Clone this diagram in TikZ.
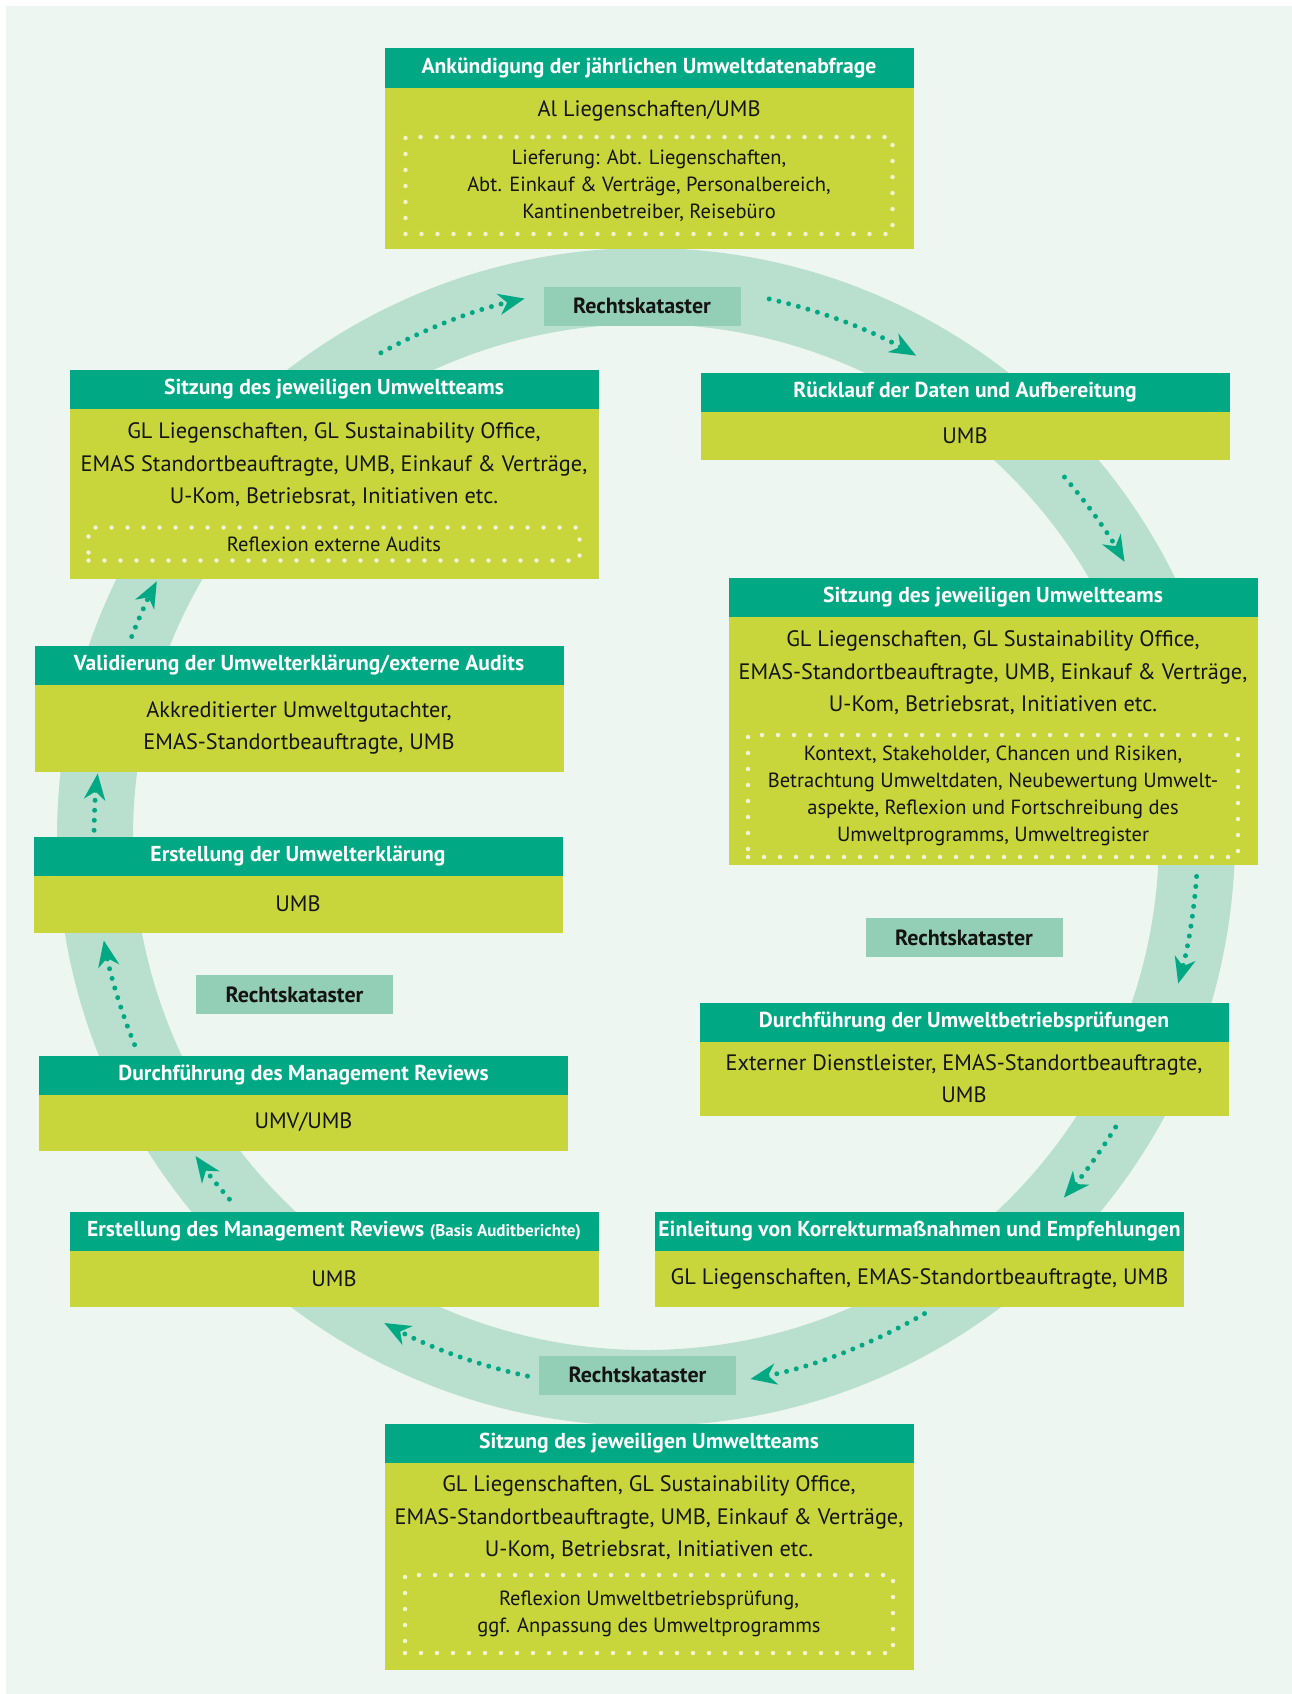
\documentclass[tikz,border=0pt]{standalone}
\usepackage{fontspec}
\setmainfont{PT Sans}
\usetikzlibrary{arrows.meta,positioning}
\definecolor{bgmint}{RGB}{238,246,241}
\definecolor{ringmint}{RGB}{185,223,207}
\definecolor{rkgreen}{RGB}{147,207,182}
\definecolor{headgreen}{RGB}{0,169,131}
\definecolor{bodylime}{RGB}{200,214,60}
\definecolor{dotwhite}{RGB}{242,242,214}
\definecolor{textdark}{RGB}{20,20,20}
\newcommand{\hdfont}{\bfseries\fontsize{21.6}{25}\selectfont}
\newcommand{\txtfont}{\fontsize{22.3}{32.3}\selectfont}
\newcommand{\notefont}{\fontsize{20.5}{27}\selectfont}
\newcommand{\rkfont}{\bfseries\fontsize{22}{25}\selectfont}

\begin{document}
\begin{tikzpicture}[
  x=1pt, y=-1pt,
  head/.style={fill=headgreen, text=white, font=\hdfont, minimum width=529pt, minimum height=39pt, inner sep=0pt, outer sep=0pt},
  body/.style={fill=bodylime, text=textdark, font=\txtfont, align=center, minimum width=529pt, inner sep=0pt, outer sep=0pt},
  txt/.style={text=textdark, font=\txtfont, align=center, inner sep=0pt},
  dotbox/.style={draw=dotwhite, line width=4.5pt, dash pattern=on 0pt off 16pt, line cap=round, text=textdark, font=\notefont, align=center, inner sep=0pt, outer sep=0pt},
  rk/.style={fill=rkgreen, text=textdark, font=\rkfont, minimum width=197pt, minimum height=39pt, inner sep=0pt},
  flow/.style={draw=headgreen, line width=5pt, dash pattern=on 0pt off 10pt, line cap=round, -{Stealth[length=26pt, width=21pt, inset=8pt]}}
]
  \useasboundingbox (0,0) rectangle (1292,1694);
  \fill[bgmint] (6,6) rectangle (1292,1694);

  % ring
  \coordinate (ctr) at (646,837);
  \draw[ringmint, line width=76pt] (ctr) circle[radius=551];

  % top
  \node[head] (annH) at (649,68) {Ankündigung der jährlichen Umweltdatenabfrage};
  \node[body, below=0pt of annH, minimum height=161pt] (annB) {};
  \node[txt] (annT) at ([yshift=-23.5pt]annH.south) {Al Liegenschaften/UMB};
  \node[dotbox, above=14.5pt of annB.south, minimum width=487pt, minimum height=97pt] (annD)
    {Lieferung: Abt. Liegenschaften,\\Abt. Einkauf \& Verträge, Personalbereich,\\Kantinenbetreiber, Reisebüro};

  % right side
  \node[head] (retH) at (965,392) {Rücklauf der Daten und Aufbereitung};
  \node[body, below=0pt of retH, minimum height=48.6pt] (retB) {UMB};

  \node[head] (teamRH) at (993,597.5) {Sitzung des jeweiligen Umweltteams};
  \node[body, below=0pt of teamRH, minimum height=248pt] (teamRB) {};
  \node[txt] (teamRT) at ([yshift=-56pt]teamRH.south)
    {GL Liegenschaften, GL Sustainability Office,\\EMAS-Standortbeauftragte, UMB, Einkauf \& Verträge,\\U-Kom, Betriebsrat, Initiativen etc.};
  \node[dotbox, above=8pt of teamRB.south, minimum width=490pt, minimum height=122pt] (teamRD)
    {Kontext, Stakeholder, Chancen und Risiken,\\Betrachtung Umweltdaten, Neubewertung Umwelt-\\aspekte, Reflexion und Fortschreibung des\\Umweltprogramms, Umweltregister};

  \node[head] (ubpH) at (964,1022) {Durchführung der Umweltbetriebsprüfungen};
  \node[body, below=0pt of ubpH, minimum height=74.6pt] (ubpB) {Externer Dienstleister, EMAS-Standortbeauftragte,\\UMB};

  \node[head] (korrH) at (919.5,1231.5) {Einleitung von Korrekturmaßnahmen und Empfehlungen};
  \node[body, below=0pt of korrH, minimum height=56pt] (korrB) {GL Liegenschaften, EMAS-Standortbeauftragte, UMB};

  % bottom
  \node[head] (teamBH) at (649,1443.5) {Sitzung des jeweiligen Umweltteams};
  \node[body, below=0pt of teamBH, minimum height=207pt] (teamBB) {};
  \node[txt] (teamBT) at ([yshift=-55pt]teamBH.south)
    {GL Liegenschaften, GL Sustainability Office,\\EMAS-Standortbeauftragte, UMB, Einkauf \& Verträge,\\U-Kom, Betriebsrat, Initiativen etc.};
  \node[dotbox, above=17pt of teamBB.south, minimum width=488pt, minimum height=78pt] (teamBD)
    {Reflexion Umweltbetriebsprüfung,\\ggf. Anpassung des Umweltprogramms};

  % left side
  \node[head] (mrEH) at (334,1231.5) {Erstellung des Management Reviews {\fontsize{17}{20}\selectfont(Basis Auditberichte)}};
  \node[body, below=0pt of mrEH, minimum height=56pt] (mrEB) {UMB};

  \node[head] (mrDH) at (303.5,1075) {Durchführung des Management Reviews};
  \node[body, below=0pt of mrDH, minimum height=56pt] (mrDB) {UMV/UMB};

  \node[head] (ueEH) at (298,856) {Erstellung der Umwelterklärung};
  \node[body, below=0pt of ueEH, minimum height=57pt] (ueEB) {UMB};

  \node[head] (valH) at (299,665) {Validierung der Umwelterklärung/externe Audits};
  \node[body, below=0pt of valH, minimum height=87pt] (valB) {Akkreditierter Umweltgutachter,\\EMAS-Standortbeauftragte, UMB};

  \node[head] (teamLH) at (334,389) {Sitzung des jeweiligen Umweltteams};
  \node[body, below=0pt of teamLH, minimum height=170pt] (teamLB) {};
  \node[txt] (teamLT) at ([yshift=-56.5pt]teamLH.south)
    {GL Liegenschaften, GL Sustainability Office,\\EMAS Standortbeauftragte, UMB, Einkauf \& Verträge,\\U-Kom, Betriebsrat, Initiativen etc.};
  \node[dotbox, above=18pt of teamLB.south, minimum width=491pt, minimum height=33pt] (teamLD)
    {Reflexion externe Audits};

  % Rechtskataster
  \node[rk] (rkTop) at (642,306) {Rechtskataster};
  \node[rk] (rkRight) at (964,937.5) {Rechtskataster};
  \node[rk] (rkBottom) at (637.5,1375) {Rechtskataster};
  \node[rk] (rkLeft) at (294.5,994.5) {Rechtskataster};

  % dotted arrows along the ring
  \foreach \a/\b in {-118.7/-102.7, -77.1/-60.7, -40.7/-29.9, 4.1/15.4, 31.7/40.8, 59.7/79.1,
                     102.4/118.3, 139.0/144.7, 157.9/169.2, 180.7/186.6, 201.3/207.6}
    \draw[flow] ([shift={(\a:552)}]ctr) arc[start angle=\a, end angle=\b, radius=552];
\end{tikzpicture}
\end{document}
